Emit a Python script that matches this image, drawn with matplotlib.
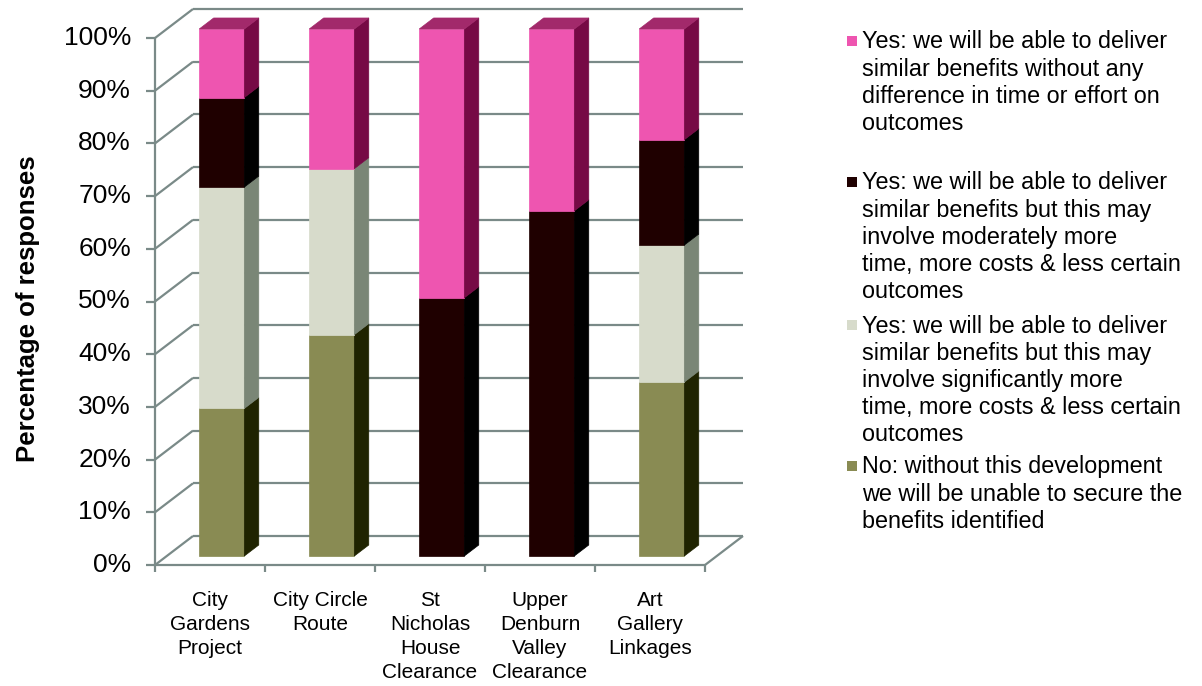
import matplotlib
matplotlib.use("Agg")
import matplotlib.pyplot as plt
from matplotlib.patches import Polygon, Rectangle

plt.rcParams['font.family'] = ['Liberation Sans', 'DejaVu Sans']

# Datos: porcentaje de respuestas por proyecto (de abajo hacia arriba)
projects = ["City\nGardens\nProject", "City Circle\nRoute", "St\nNicholas\nHouse\nClearance",
            "Upper\nDenburn\nValley\nClearance", "Art\nGallery\nLinkages"]
no_benefit = [28, 42, 0, 0, 33]
significant_more = [42, 31.5, 0, 0, 26]
moderate_more = [17, 0, 49, 65.5, 20]
no_difference = [13, 26.5, 51, 34.5, 21]
y_ticks = [0, 10, 20, 30, 40, 50, 60, 70, 80, 90, 100]

legend_labels = [
    "Yes: we will be able to deliver\nsimilar benefits without any\ndifference in time or effort on\noutcomes",
    "Yes: we will be able to deliver\nsimilar benefits but this may\ninvolve moderately more\ntime, more costs & less certain\noutcomes",
    "Yes: we will be able to deliver\nsimilar benefits but this may\ninvolve significantly more\ntime, more costs & less certain\noutcomes",
    "No: without this development\nwe will be unable to secure the\nbenefits identified",
]

# series de abajo hacia arriba: (valores, frente, lateral, arriba)
series = [
    (no_benefit, '#898B53', '#1F2300', '#5a5c30'),
    (significant_more, '#D7DBCB', '#7A8676', '#b8bdaa'),
    (moderate_more, '#1F0000', '#000000', '#3a0808'),
    (no_difference, '#EE55B0', '#760A45', '#A2296B'),
]

W, H = 1202, 686
PX_X = 110.0   # pixeles por categoria
PX_Y = 5.27    # pixeles por punto porcentual
X0, Y0 = 155, 565
DX, DY = 38 / PX_X, 29 / PX_Y   # profundidad de la caja 3D
BW = 0.41
Z0, Z1 = 0.31, 0.69
GRID = '#7A8A88'


def proj(x, y, z):
    return (x + z * DX, y + z * DY)


def px2data(px, py):
    return ((px - X0) / PX_X, (Y0 - py) / PX_Y)


def line(ax, a, b, **kw):
    ax.plot([a[0], b[0]], [a[1], b[1]], color=GRID, lw=1.6, solid_capstyle='butt', **kw)


fig = plt.figure(figsize=(W / 100, H / 100), dpi=100)
ax = fig.add_axes([0, 0, 1, 1])
ax.axis('off')
ax.set_xlim(-X0 / PX_X, (W - X0) / PX_X)
ax.set_ylim(-(H - Y0) / PX_Y, Y0 / PX_Y)

n = len(projects)

# paredes y suelo
for t in y_ticks:
    line(ax, proj(0, t, 1), proj(n, t, 1), zorder=1)
    line(ax, proj(0, t, 0), proj(0, t, 1), zorder=1)
    line(ax, (-9 / PX_X, t), (0, t), zorder=2)
    ax.text(-24 / PX_X, t, f"{t}%", ha='right', va='center', fontsize=19)
line(ax, proj(0, 0, 0), proj(0, 100, 0), zorder=2)
line(ax, proj(0, 0, 0), proj(n, 0, 0), zorder=2)
line(ax, proj(n, 0, 0), proj(n, 0, 1), zorder=2)
for i in range(n + 1):
    line(ax, (i, 0), (i, -7 / PX_Y), zorder=2)

# etiquetas de categoria, una linea cada vez
for i, name in enumerate(projects):
    for k, txt in enumerate(name.split("\n")):
        x, y = px2data(0, 601 + k * 23.7)
        ax.text(i + 0.5, y, txt, ha='center', va='center', fontsize=15)

# barras apiladas en 3D
for i in range(n):
    xl = i + 0.5 - BW / 2
    xr = xl + BW
    base = 0
    top_col = None
    for vals, c_front, c_side, c_top in series:
        v = vals[i]
        if v <= 0:
            continue
        top = base + v
        front = [proj(xl, base, Z0), proj(xr, base, Z0), proj(xr, top, Z0), proj(xl, top, Z0)]
        side = [proj(xr, base, Z0), proj(xr, base, Z1), proj(xr, top, Z1), proj(xr, top, Z0)]
        ax.add_patch(Polygon(front, closed=True, facecolor=c_front, edgecolor=c_front, lw=0.5, zorder=5))
        ax.add_patch(Polygon(side, closed=True, facecolor=c_side, edgecolor=c_side, lw=0.5, zorder=5))
        base = top
        top_col = c_top
    cap = [proj(xl, base, Z0), proj(xr, base, Z0), proj(xr, base, Z1), proj(xl, base, Z1)]
    ax.add_patch(Polygon(cap, closed=True, facecolor=top_col, edgecolor=top_col, lw=0.5, zorder=5))

# leyenda
legend_top = [42, 183, 326, 467]
legend_cols = [s[1] for s in series][::-1]
for label, y0, col in zip(legend_labels, legend_top, legend_cols):
    sx, sy = px2data(847, y0 + 4)
    ax.add_patch(Rectangle((sx, sy), 10 / PX_X, 10 / PX_Y, facecolor=col, edgecolor='none', zorder=5))
    for k, txt in enumerate(label.split("\n")):
        x, y = px2data(862, y0 + k * 27.2)
        ax.text(x, y, txt, ha='left', va='center', fontsize=16.8)

fig.text(28 / W, 1 - 309 / H, "Percentage of responses", rotation=90, ha='center', va='center',
         fontsize=18.5, fontweight='bold')

fig.savefig("out.png", dpi=100)
